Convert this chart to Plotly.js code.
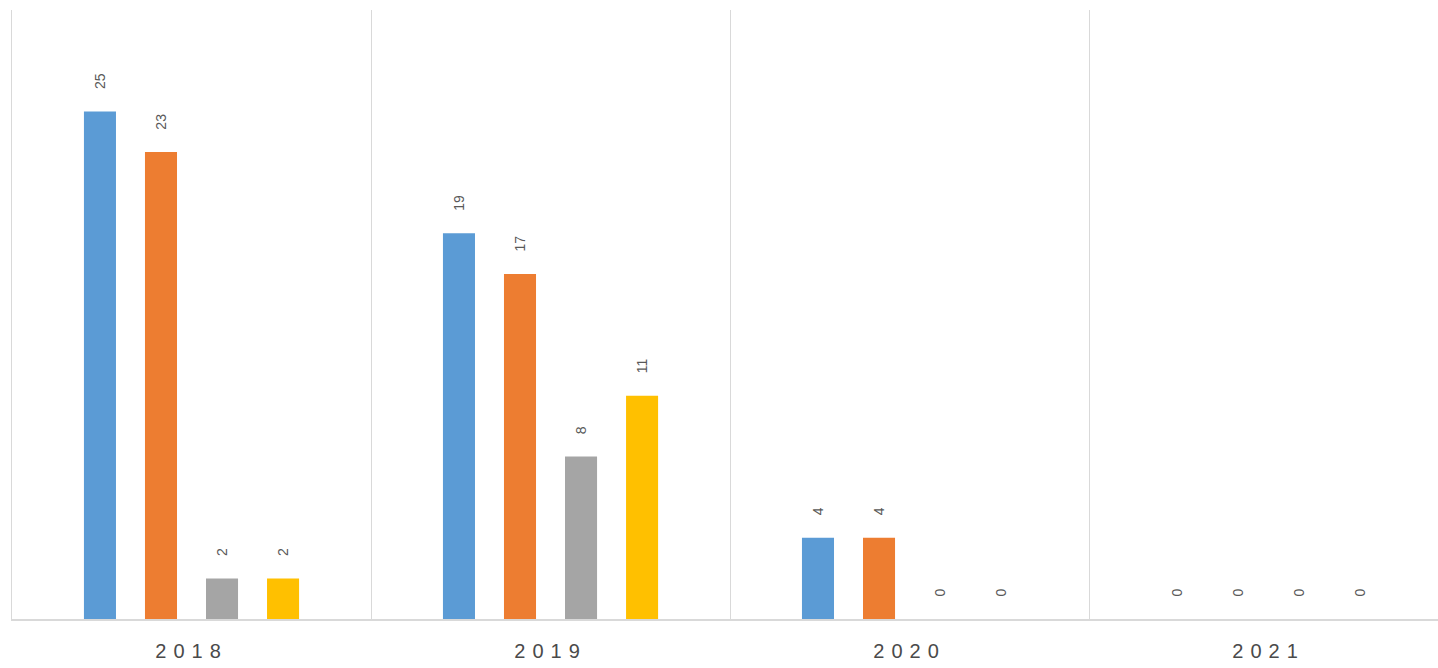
<!DOCTYPE html>
<html>
<head>
<meta charset="utf-8">
<script src="https://cdn.plot.ly/plotly-3.0.1.min.js"></script>
<style>
  html, body { margin: 0; padding: 0; background: #fff; }
  #chart { width: 1438px; height: 668px; }
  .xtick text { letter-spacing: 7px; }
</style>
</head>
<body>
<div id="chart"></div>
<script>
const categories = ['2018', '2019', '2020', '2021'];
const seriesA = [25, 19, 4, 0];
const seriesB = [23, 17, 4, 0];
const seriesC = [2, 8, 0, 0];
const seriesD = [2, 11, 0, 0];
const seriesNames = ['Series 1', 'Series 2', 'Series 3', 'Series 4'];
const seriesColors = ['#5b9bd5', '#ed7d31', '#a5a5a5', '#ffc000'];
const allSeries = [seriesA, seriesB, seriesC, seriesD];

const pad = '\u00a0\u00a0\u00a0\u00a0\u00a0';
const traces = allSeries.map((vals, i) => ({
  type: 'bar',
  name: seriesNames[i],
  x: categories,
  y: vals,
  marker: { color: seriesColors[i] },
  text: vals.map(v => String(v)),
  texttemplate: pad + '%{y}',
  textposition: 'outside',
  textangle: -90,
  constraintext: 'none',
  cliponaxis: false,
  textfont: { family: 'Liberation Sans, Arial, sans-serif', size: 14, color: '#595959' },
  hoverinfo: 'x+y'
}));

const layout = {
  width: 1438,
  height: 668,
  margin: { l: 12, r: 0, t: 10, b: 49 },
  paper_bgcolor: '#ffffff',
  plot_bgcolor: '#ffffff',
  showlegend: false,
  barmode: 'group',
  bargap: 0.32,
  bargroupgap: 0.475,
  xaxis: {
    type: 'category',
    range: [-0.5, 3.472],
    tickson: 'boundaries',
    showgrid: true,
    gridcolor: '#d9d9d9',
    gridwidth: 1,
    showline: true,
    linecolor: '#d9d9d9',
    linewidth: 2,
    ticks: '',
    ticklabelstandoff: 13,
    tickfont: { family: 'Liberation Sans, Arial, sans-serif', size: 20, color: '#4a4a4a' },
    fixedrange: true
  },
  yaxis: {
    range: [0, 30],
    showgrid: false,
    zeroline: false,
    showline: true,
    linecolor: '#d9d9d9',
    linewidth: 1,
    showticklabels: false,
    ticks: '',
    fixedrange: true
  }
};

Plotly.newPlot('chart', traces, layout, { displayModeBar: false, staticPlot: true });
</script>
</body>
</html>
